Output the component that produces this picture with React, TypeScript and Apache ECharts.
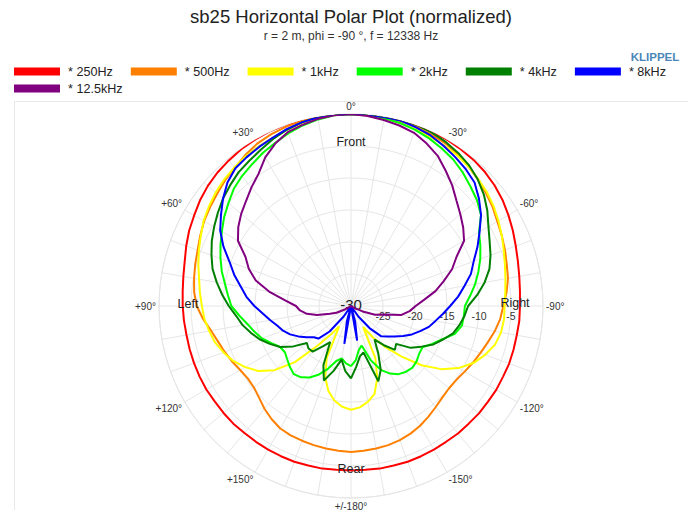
import React, { useEffect, useRef } from 'react';
import * as echarts from 'echarts';

// Angles in degrees (0 = front, positive = left side)
const ANGLES = [
  -180, -175, -170, -165, -160, -155, -150, -145, -140, -135, -130, -125,
  -120, -115, -110, -105, -100, -95, -90, -85, -80, -75, -70, -65,
  -60, -55, -50, -45, -40, -35, -30, -25, -20, -15, -10, -5,
  0, 5, 10, 15, 20, 25, 30, 35, 40, 45, 50, 55,
  60, 65, 70, 75, 80, 85, 90, 95, 100, 105, 110, 115,
  120, 125, 130, 135, 140, 145, 150, 155, 160, 165, 170, 175, 180,
];

const SERIES_NAMES = ['* 250Hz', '* 500Hz', '* 1kHz', '* 2kHz', '* 4kHz', '* 8kHz', '* 12.5kHz'];
const SERIES_COLORS = ['#ff0000', '#ff8000', '#ffff00', '#00ff00', '#008000', '#0000ff', '#800080'];

const DB_250 = [
  -4.3, -4.3, -4.2, -4.2, -4.1, -4.1, -4.1, -4.1, -4.0, -4.0, -3.9, -3.9,
  -3.8, -3.8, -3.7, -3.7, -3.7, -3.6, -3.6, -3.5, -3.3, -3.0, -2.6, -2.1,
  -1.6, -1.1, -0.7, -0.4, -0.2, -0.1, 0, 0, 0.1, 0, 0, 0,
  0, 0, 0, 0, 0.1, 0.1, 0, -0.1, -0.3, -0.5, -0.8, -1.2,
  -1.7, -2.1, -2.6, -3.1, -3.4, -3.6, -3.7, -3.8, -3.9, -3.9, -3.9, -3.9,
  -3.9, -4.0, -4.0, -4.0, -4.1, -4.1, -4.1, -4.1, -4.1, -4.2, -4.2, -4.3, -4.3,
];

const DB_500 = [
  -7.2, -7.3, -7.4, -7.5, -7.7, -8.0, -8.4, -8.9, -9.4, -9.8, -10.0, -9.9,
  -9.5, -9.0, -8.5, -7.9, -7.2, -6.6, -6.2, -5.6, -5.1, -4.8, -4.4, -4.0,
  -3.6, -3.0, -2.5, -2.0, -1.5, -1.0, -0.6, -0.4, -0.2, -0.1, 0, 0,
  0, 0, 0, -0.1, -0.2, -0.4, -0.7, -1.2, -1.8, -2.2, -2.7, -3.1,
  -3.5, -4.0, -4.5, -4.8, -5.1, -5.4, -5.9, -6.8, -7.8, -8.5, -9.0, -9.5,
  -10.0, -10.3, -10.2, -9.7, -9.0, -8.4, -7.9, -7.7, -7.6, -7.5, -7.4, -7.3, -7.2,
];

const DB_1K = [
  -13.8, -14.1, -14.8, -15.8, -18.0, -21.0, -26.2, -24.0, -21.6, -18.8, -15.6, -12.8,
  -10.6, -8.9, -7.7, -6.7, -6.2, -6.0, -6.0, -5.8, -5.5, -5.1, -4.6, -4.0,
  -3.4, -2.8, -2.3, -1.9, -1.5, -1.2, -1.0, -0.8, -0.6, -0.4, -0.2, 0,
  0, 0, -0.2, -0.4, -0.7, -1.0, -1.2, -1.4, -1.7, -2.0, -2.4, -2.9,
  -3.4, -4.1, -4.7, -5.3, -5.9, -6.3, -6.7, -7.0, -7.5, -8.0, -8.8, -9.7,
  -10.9, -12.3, -14.4, -17.6, -22.0, -24.6, -26.3, -21.0, -18.2, -16.3, -15.0, -14.2, -13.8,
];

const DB_2K = [
  -20.6, -21.5, -23.0, -23.6, -21.0, -19.0, -17.8, -17.0, -16.6, -16.4, -16.6, -17.0,
  -17.1, -16.0, -14.8, -13.2, -12.4, -12.3, -12.2, -11.3, -10.3, -9.4, -8.5, -7.7,
  -6.9, -5.2, -4.3, -3.6, -2.8, -2.1, -1.6, -1.1, -0.7, -0.4, -0.2, 0,
  0, -0.1, -0.4, -0.8, -1.3, -1.9, -2.4, -3.0, -3.5, -4.1, -5.0, -5.8,
  -6.7, -7.5, -8.3, -9.1, -10.0, -10.7, -11.3, -12.5, -13.6, -14.4, -15.2, -16.3,
  -17.2, -17.4, -17.0, -16.5, -16.1, -16.4, -17.1, -18.2, -19.6, -21.1, -21.7, -21.0, -20.6,
];

const DB_4K = [
  -18.7, -20.5, -22.0, -22.5, -17.5, -19.0, -21.5, -23.6, -22.0, -20.3, -20.8, -18.6,
  -17.3, -15.8, -14.7, -13.5, -12.8, -12.2, -11.7, -10.2, -8.8, -7.6, -6.8, -6.1,
  -5.2, -4.0, -2.9, -2.0, -1.3, -0.8, -0.4, -0.1, 0.1, 0.1, 0, 0,
  0, 0, 0, -0.3, -0.7, -1.2, -1.8, -2.3, -2.7, -3.3, -3.9, -4.6,
  -5.3, -6.0, -6.8, -7.6, -8.7, -9.8, -10.9, -12.0, -12.8, -13.8, -14.8, -16.0,
  -17.2, -19.0, -21.0, -20.6, -20.7, -22.3, -23.5, -19.8, -17.6, -19.5, -21.5, -19.8, -18.7,
];

const DB_8K = [
  -30, -30, -24.5, -27.5, -30, -30, -30, -28.0, -25.5, -23.3, -22.6, -21.7,
  -20.6, -19.5, -18.5, -17.4, -16.6, -15.6, -14.5, -13.2, -12.0, -10.6, -9.6, -8.2,
  -6.8, -5.2, -3.9, -2.7, -2.1, -1.6, -1.1, -0.6, -0.3, 0, 0, 0,
  0, 0, -0.1, -0.3, -0.6, -1.0, -1.3, -1.6, -1.9, -2.7, -3.9, -5.2,
  -6.4, -8.0, -9.8, -11.1, -12.5, -13.6, -14.9, -16.2, -17.2, -18.1, -18.7, -19.5,
  -20.5, -21.5, -22.4, -22.8, -24.8, -28.0, -30, -30, -30, -27.5, -24.0, -30, -30,
];

const DB_12K5 = [
  -30, -30, -30, -30, -30, -30, -30, -30, -30, -30, -30, -30,
  -29.5, -28.0, -26.0, -24.8, -22.0, -20.8, -19.9, -18.5, -16.6, -15.0, -13.2, -11.8,
  -9.6, -8.6, -7.7, -6.7, -5.4, -4.2, -2.9, -2.0, -1.2, -0.8, -0.5, -0.2,
  0, -0.1, -0.3, -0.7, -1.1, -2.0, -3.2, -4.8, -5.8, -6.8, -7.6, -8.5,
  -9.6, -11.8, -13.0, -14.6, -17.0, -19.6, -21.4, -22.0, -23.0, -24.5, -26.5, -27.5,
  -29.0, -30, -30, -30, -30, -30, -30, -30, -30, -30, -30, -30, -30,
];

const SERIES_VALUES = [DB_250, DB_500, DB_1K, DB_2K, DB_4K, DB_8K, DB_12K5];

const RADIUS_MIN = -30;
const RADIUS_MAX = 0;
const RADIUS_STEP = 5;

const FONT = 'Liberation Sans, Arial, Helvetica, sans-serif';
const GRID = '#e6e6e6';

// plot angle: the angle axis starts at the right side (-90) and runs counter-clockwise
const toPlotAngle = (a: number) => (a < -90 ? a + 360 : a);

const angleLabel = (v: number) => {
  const n = Math.round(v);
  if (n % 30 !== 0 || n === 270) return '';
  if (n === 0) return '0°';
  if (n === 180) return '+/-180°';
  const t = n > 180 ? n - 360 : n;
  return (t > 0 ? '+' : '') + t + '°';
};

export default function App() {
  const ref = useRef<HTMLDivElement>(null);

  useEffect(() => {
    if (!ref.current) return;
    const chart = echarts.init(ref.current, undefined, { renderer: 'svg' });

    const series = SERIES_NAMES.map((name, i) => ({
      name,
      type: 'line',
      coordinateSystem: 'polar',
      symbol: 'none',
      smooth: false,
      lineStyle: { width: 2, color: SERIES_COLORS[i] },
      itemStyle: { color: SERIES_COLORS[i] },
      data: ANGLES.map((a, k) => [SERIES_VALUES[i][k], toPlotAngle(a)]),
    }));

    const legendCommon = {
      left: 9,
      icon: 'rect',
      itemWidth: 46,
      itemHeight: 8,
      itemGap: 18,
      orient: 'horizontal',
      textStyle: { fontSize: 12.6, color: '#222', fontFamily: FONT, padding: [0, 0, 0, 3] },
    };

    const sideLabel = (text: string, x: number, y: number) => ({
      type: 'text',
      x,
      y,
      z: 10,
      silent: true,
      style: { text, align: 'center', verticalAlign: 'middle', fontSize: 12.5, fill: '#222', fontFamily: FONT },
    });

    chart.setOption({
      animation: false,
      textStyle: { fontFamily: FONT },
      title: {
        text: 'sb25 Horizontal Polar Plot (normalized)',
        subtext: 'r = 2 m, phi = -90 °, f = 12338 Hz',
        left: 346,
        top: 2,
        textAlign: 'center',
        itemGap: 4,
        textStyle: { fontSize: 18.5, fontWeight: 'normal', color: '#222', fontFamily: FONT },
        subtextStyle: { fontSize: 12, color: '#333', fontFamily: FONT },
      },
      legend: [
        { ...legendCommon, top: 60, data: SERIES_NAMES.slice(0, 6) },
        { ...legendCommon, top: 77, data: SERIES_NAMES.slice(6) },
      ],
      polar: { center: [351, 306], radius: 192 },
      angleAxis: {
        type: 'value',
        min: -90,
        max: 270,
        interval: 10,
        startAngle: 0,
        clockwise: false,
        axisLine: { show: true, lineStyle: { color: GRID, width: 1 } },
        axisTick: { show: false },
        splitLine: { show: true, lineStyle: { color: GRID, width: 1 } },
        axisLabel: { margin: 3, fontSize: 10, color: '#333', formatter: angleLabel },
      },
      radiusAxis: {
        type: 'value',
        min: RADIUS_MIN,
        max: RADIUS_MAX,
        interval: RADIUS_STEP,
        axisLine: { show: false },
        axisTick: { show: false },
        splitLine: { show: true, lineStyle: { color: GRID, width: 1 } },
        axisLabel: {
          margin: -10,
          verticalAlign: 'middle',
          fontSize: 10.5,
          color: '#333',
          formatter: (v: number) => (v === RADIUS_MAX ? '' : v === RADIUS_MIN ? '{c|' + v + '}' : String(v)),
          rich: { c: { fontSize: 15, color: '#222', padding: [0, 0, 24, 0] } },
        },
      },
      graphic: [
        { type: 'line', shape: { x1: 14.5, y1: 101.5, x2: 688, y2: 101.5 }, style: { stroke: '#e8e8e8', lineWidth: 1 }, silent: true },
        { type: 'line', shape: { x1: 14.5, y1: 101.5, x2: 14.5, y2: 510 }, style: { stroke: '#e8e8e8', lineWidth: 1 }, silent: true },
        { type: 'text', x: 655, y: 57, silent: true, style: { text: 'KLIPPEL', align: 'center', verticalAlign: 'middle', fontSize: 11.5, fontWeight: 'bold', fill: '#4a86b8', fontFamily: FONT } },
        sideLabel('Front', 351, 142),
        sideLabel('Rear', 351, 469),
        sideLabel('Left', 188, 304),
        sideLabel('Right', 515, 303),
      ],
      series,
    });

    return () => chart.dispose();
  }, []);

  return (
    <div
      ref={ref}
      style={{ position: 'fixed', left: 0, top: 0, width: 694, height: 517, background: '#fff' }}
    />
  );
}
